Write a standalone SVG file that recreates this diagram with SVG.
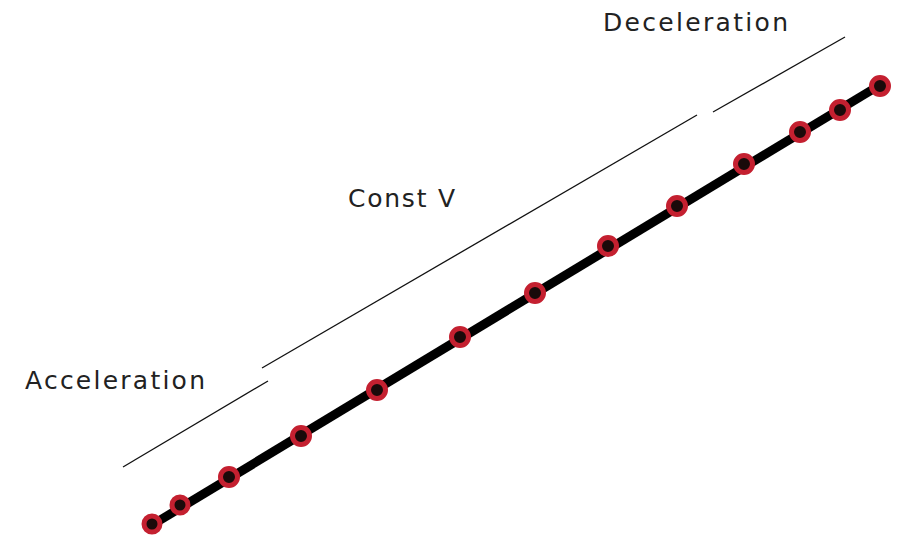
<svg xmlns="http://www.w3.org/2000/svg" width="902" height="540" viewBox="0 0 902 540">
<style>
.lbl{font-family:"DejaVu Sans",sans-serif;font-size:25px;fill:#222}
.thin{stroke:#111;stroke-width:1.3;fill:none}
.pt{fill:#1a0a0a;stroke:#c42030;stroke-width:5}
</style>
<rect width="902" height="540" fill="#fff"/>
<g id="connectors">
<line x1="152" y1="525" x2="880" y2="85" stroke="#000" stroke-width="9"/>
<line class="thin" x1="123" y1="467" x2="268" y2="381"/>
<line class="thin" x1="262" y1="368" x2="697" y2="115"/>
<line class="thin" x1="713" y1="112" x2="845" y2="37"/>
</g>
<g id="points">
<circle class="pt" cx="152" cy="524" r="8"/>
<circle class="pt" cx="180" cy="505" r="8"/>
<circle class="pt" cx="229" cy="477" r="8.5"/>
<circle class="pt" cx="301" cy="436" r="8.5"/>
<circle class="pt" cx="377" cy="390" r="8.5"/>
<circle class="pt" cx="460" cy="337" r="8.5"/>
<circle class="pt" cx="535" cy="293" r="8.5"/>
<circle class="pt" cx="608" cy="246" r="8.5"/>
<circle class="pt" cx="677" cy="206" r="8.5"/>
<circle class="pt" cx="744" cy="164" r="8.5"/>
<circle class="pt" cx="800" cy="132" r="8.5"/>
<circle class="pt" cx="840" cy="110" r="8.5"/>
<circle class="pt" cx="880" cy="86" r="8.5"/>
</g>
<g id="labels">
<text class="lbl" x="25" y="389" textLength="180" lengthAdjust="spacing">Acceleration</text>
<text class="lbl" x="348" y="207" textLength="107" lengthAdjust="spacing">Const V</text>
<text class="lbl" x="603" y="31" textLength="185" lengthAdjust="spacing">Deceleration</text>
</g>
</svg>
